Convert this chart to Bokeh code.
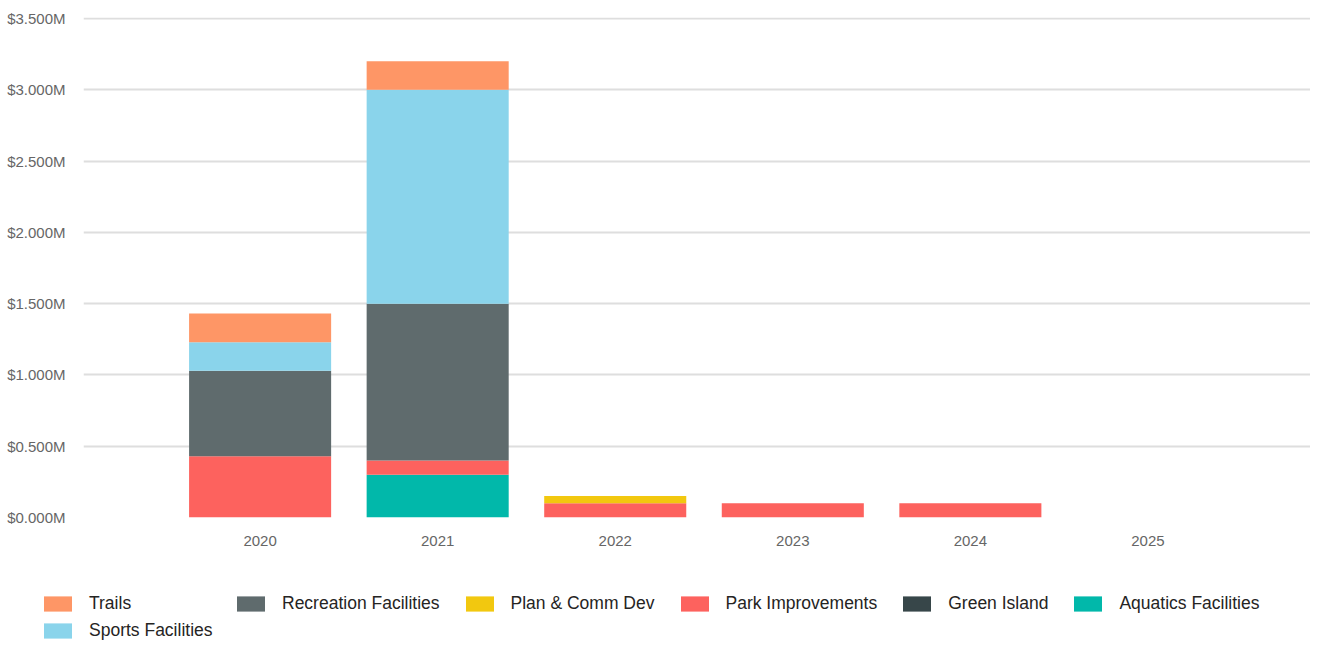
from bokeh.plotting import figure
from bokeh.layouts import column
from bokeh.models import ColumnDataSource, Legend, LegendItem, FixedTicker, CustomJSTickFormatter
from bokeh.embed import file_html
from bokeh.resources import INLINE

years = ["2020", "2021", "2022", "2023", "2024", "2025"]
aquatics = [0.0, 0.30, 0.0, 0.0, 0.0, 0.0]
green_island = [0.0, 0.0, 0.0, 0.0, 0.0, 0.0]
park = [0.43, 0.10, 0.10, 0.10, 0.10, 0.0]
plan = [0.0, 0.0, 0.05, 0.0, 0.0, 0.0]
recreation = [0.60, 1.10, 0.0, 0.0, 0.0, 0.0]
sports = [0.20, 1.50, 0.0, 0.0, 0.0, 0.0]
trails = [0.20, 0.20, 0.0, 0.0, 0.0, 0.0]
y_ticks = [0.0, 0.5, 1.0, 1.5, 2.0, 2.5, 3.0, 3.5]

series = ["Aquatics Facilities", "Green Island", "Park Improvements", "Plan & Comm Dev",
          "Recreation Facilities", "Sports Facilities", "Trails"]
colors = ["#01B8AA", "#374649", "#FD625E", "#F2C80F", "#5F6B6D", "#8AD4EB", "#FE9666"]
legend_col1 = ["Trails", "Sports Facilities"]
legend_row1 = ["Recreation Facilities", "Plan & Comm Dev", "Park Improvements",
               "Green Island", "Aquatics Facilities"]

src = ColumnDataSource(dict(
    x=list(range(len(years))),
    **{"Aquatics Facilities": aquatics, "Green Island": green_island,
       "Park Improvements": park, "Plan & Comm Dev": plan,
       "Recreation Facilities": recreation, "Sports Facilities": sports, "Trails": trails}))

FONT = "Liberation Sans"

# ---- main chart ----
p = figure(width=1310, height=567, output_backend="svg", toolbar_location=None,
           x_range=(-0.9946, 5.9156), y_range=(0, 3.507),
           min_border_left=83, min_border_right=0, min_border_top=17, min_border_bottom=50)
p.frame_align = False

p.vbar_stack(series, x="x", width=0.8, color=colors, source=src, line_color=None)

p.outline_line_color = None
p.xgrid.grid_line_color = None
p.ygrid.grid_line_color = "#DEDEDE"
p.ygrid.grid_line_width = 2
p.ygrid.ticker = FixedTicker(ticks=y_ticks)

p.yaxis.ticker = FixedTicker(ticks=y_ticks)
p.yaxis.formatter = CustomJSTickFormatter(code="return '$' + tick.toFixed(3) + 'M';")
p.yaxis.axis_line_color = None
p.yaxis.major_tick_line_color = None
p.yaxis.minor_tick_line_color = None
p.yaxis.major_label_standoff = 12
p.yaxis.major_label_text_font = FONT
p.yaxis.major_label_text_font_size = "15px"
p.yaxis.major_label_text_color = "#666666"

p.xaxis.ticker = FixedTicker(ticks=list(range(len(years))))
p.xaxis.major_label_overrides = {i: y for i, y in enumerate(years)}
p.xaxis.axis_line_color = None
p.xaxis.major_tick_line_color = None
p.xaxis.minor_tick_line_color = None
p.xaxis.major_label_standoff = 12
p.xaxis.major_label_text_font = FONT
p.xaxis.major_label_text_font_size = "15px"
p.xaxis.major_label_text_color = "#666666"

# ---- legend strip ----
lg = figure(width=1310, height=74, output_backend="svg", toolbar_location=None,
            x_range=(100, 101), y_range=(100, 101), x_axis_type=None, y_axis_type=None,
            min_border_left=0, min_border_right=0, min_border_top=0, min_border_bottom=0)
lg.frame_align = False
lg.outline_line_color = None
lg.grid.visible = False
lrend = lg.vbar_stack(series, x="x", width=0.8, color=colors, source=src, line_color=None)
lmap = dict(zip(series, lrend))

common = dict(label_text_font=FONT, label_text_font_size="17.5px", label_text_color="#252423",
              glyph_width=35, glyph_height=19, label_standoff=14, label_height=18,
              padding=0, margin=0, border_line_color=None, background_fill_alpha=0)

legend_a = Legend(items=[LegendItem(label=n, renderers=[lmap[n]]) for n in legend_col1],
                  orientation="vertical", spacing=6, location=(40, 0), **common)
legend_b = Legend(items=[LegendItem(label=n, renderers=[lmap[n]]) for n in legend_row1],
                  orientation="horizontal", spacing=22, location=(233, 27), **common)
lg.add_layout(legend_a)
lg.add_layout(legend_b)

layout = column(p, lg, spacing=0)
open("out.html", "w").write(file_html(layout, INLINE))
